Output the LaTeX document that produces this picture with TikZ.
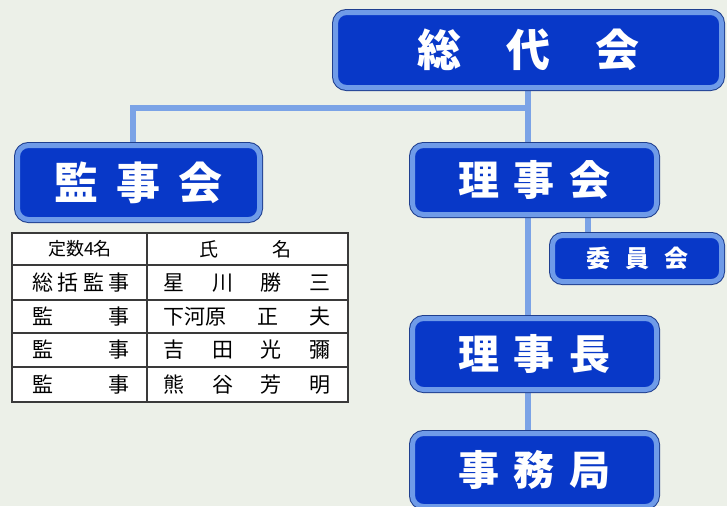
\documentclass[tikz,border=0pt]{standalone}
\usepackage{fontspec}
\newfontfamily\jp{Noto Sans CJK JP}
\usetikzlibrary{backgrounds}
\definecolor{bgc}{HTML}{ECF0E8}
\definecolor{boxfill}{HTML}{0838C8}
\definecolor{boxedge}{HTML}{6F9BE8}
\definecolor{boxrim}{HTML}{1F3F8F}
\definecolor{conn}{HTML}{7BA3E6}
\definecolor{tline}{HTML}{3A3A3A}
\tikzset{
  orgbox/.style={draw=boxedge, line width=5pt, fill=boxfill, rounded corners=11pt,
    text=white, font=\jp\bfseries, inner sep=0pt, anchor=north west,
    preaction={draw=boxrim, line width=7pt, rounded corners=12pt}},
  link/.style={draw=conn, line width=6pt},
  tcell/.style={font=\jp\fontsize{21}{21}\selectfont, text=black, inner sep=0pt},
}
\begin{document}
\begin{tikzpicture}[x=1pt,y=-1pt]
\useasboundingbox (0,0) rectangle (727,506);
\node[orgbox, minimum width=386pt, minimum height=75pt] (sodai) at (333,10)
  {\fontsize{44}{44}\selectfont\makebox[222pt]{総\hfill 代\hfill 会}};
\node[orgbox, minimum width=242pt, minimum height=74pt] (kanji) at (15,143)
  {\fontsize{44}{44}\selectfont\makebox[168pt]{監\hfill 事\hfill 会}};
\node[orgbox, minimum width=244pt, minimum height=69pt] (rijikai) at (410,143)
  {\fontsize{41}{41}\selectfont\makebox[152pt]{理\hfill 事\hfill 会}};
\node[orgbox, minimum width=169pt, minimum height=46pt, rounded corners=10pt] (iin) at (550,233)
  {\fontsize{24}{24}\selectfont\makebox[102pt]{委\hfill 員\hfill 会}};
\node[orgbox, minimum width=244pt, minimum height=71pt] (richo) at (410,316)
  {\fontsize{41}{41}\selectfont\makebox[152pt]{理\hfill 事\hfill 長}};
\node[orgbox, minimum width=244pt, minimum height=73pt] (jimu) at (410,431)
  {\fontsize{41}{41}\selectfont\makebox[152pt]{事\hfill 務\hfill 局}};
\coordinate (junc) at (528,108);
\begin{scope}[on background layer]
  \fill[bgc] (0,0) rectangle (727,506);
  \draw[link] (sodai.south -| junc) -- (junc) -- (rijikai.north -| junc);
  \draw[link] (junc) -| (kanji.north -| 133,0);
  \draw[link] (rijikai.south -| junc) -- (richo.north -| junc);
  \draw[link] (richo.south -| junc) -- (jimu.north -| junc);
  \draw[link] (rijikai.south -| 588,0) -- (iin.north -| 588,0);
\end{scope}
% table
\coordinate (tnw) at (12,233);
\coordinate (tse) at (348,402);
\draw[tline, line width=1.4pt, fill=white] (tnw) rectangle (tse);
\foreach \yy in {265,300,333,367}
  \draw[tline, line width=1.1pt] (12,\yy) -- (348,\yy);
\draw[tline, line width=1.1pt] (147,233) -- (147,402);
\node[tcell, font=\jp\fontsize{18}{18}\selectfont] (h1) at (80,249) {定数4名};
\node[tcell, font=\jp\fontsize{19}{19}\selectfont] (h2) at (245,249) {\makebox[92pt]{氏\hfill 名}};
\node[tcell] (a1) at (81,283) {\makebox[98pt]{総\hfill 括\hfill 監\hfill 事}};
\node[tcell] (b1) at (247,283) {\makebox[167pt]{星\hfill 川\hfill 勝\hfill 三}};
\node[tcell] (a2) at (81,317) {\makebox[98pt]{監\hfill 事}};
\node[tcell] (b2) at (247,317) {\makebox[167pt]{下河原\hfill 正\hfill 夫}};
\node[tcell] (a3) at (81,350) {\makebox[98pt]{監\hfill 事}};
\node[tcell] (b3) at (247,350) {\makebox[167pt]{吉\hfill 田\hfill 光\hfill 彌}};
\node[tcell] (a4) at (81,385) {\makebox[98pt]{監\hfill 事}};
\node[tcell] (b4) at (247,385) {\makebox[167pt]{熊\hfill 谷\hfill 芳\hfill 明}};
\end{tikzpicture}
\end{document}
